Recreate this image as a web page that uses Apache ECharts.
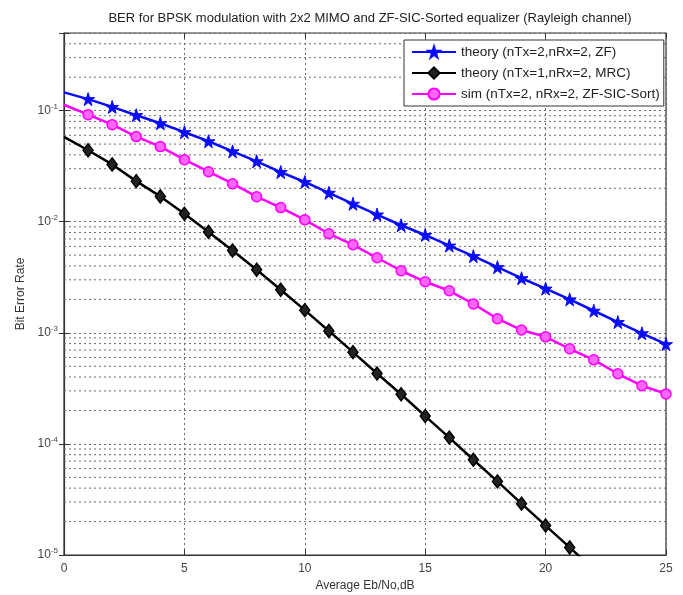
<!DOCTYPE html>
<html>
<head>
<meta charset="utf-8">
<script src="https://cdn.jsdelivr.net/npm/echarts@6/dist/echarts.min.js"></script>
<style>html,body{margin:0;padding:0;background:#fff;}#chart{width:683px;height:595px;}</style>
</head>
<body>
<div id="chart"></div>
<script>
const ebNoDb = [0,1,2,3,4,5,6,7,8,9,10,11,12,13,14,15,16,17,18,19,20,21,22,23,24,25];
const berTheoryZF = [0.146,0.127,0.108,0.091,0.077,0.064,0.053,0.043,0.035,0.028,0.0228,0.0182,0.0145,0.0116,0.0093,0.0076,0.0061,0.0049,0.0039,0.0031,0.0025,0.0020,0.00158,0.00125,0.00099,0.00079];
const berTheoryMRC = [0.058,0.044,0.0328,0.0232,0.0169,0.0118,0.0081,0.0055,0.0037,0.00244,0.0016,0.00104,0.00067,0.00043,0.00028,0.000178,0.000114,0.000072,0.000046,0.000029,0.0000184,0.0000117,0.0000074];
const berSimSort = [0.113,0.092,0.0748,0.0584,0.0475,0.0362,0.0282,0.022,0.0168,0.0134,0.0104,0.0078,0.0062,0.00474,0.00362,0.00288,0.00239,0.00182,0.00134,0.00106,0.00092,0.000718,0.000571,0.000428,0.000334,0.000282];
const seriesNames = ['theory (nTx=2,nRx=2, ZF)','theory (nTx=1,nRx=2, MRC)','sim (nTx=2, nRx=2, ZF-SIC-Sort)'];
const minorMantissas = [2,3,4,5,6,7,8,9];
const decadeExps = [-5,-4,-3,-2,-1];

const yMin = 1e-5, yMax = 0.5, xMin = 0, xMax = 25;
const minorVals = [];
decadeExps.forEach(e => minorMantissas.forEach(m => { const v = m*Math.pow(10,e); if (v < yMax*0.99) minorVals.push([v]); }));

// first point (at x = 0) is drawn without a marker, as in the reference
const pair = (xs, ys) => ys.map((y,i) => (xs[i] === xMin ? {value: [xs[i], y], symbol: 'none'} : [xs[i], y]));
const starPath = 'path://M50,0 L61,35 L98,35 L68,57 L79,91 L50,70 L21,91 L32,57 L2,35 L39,35 Z';
const gridDot = {type:[2,3], color:'#6a6a6a', width:1};
const font = 'Liberation Sans';

const chart = echarts.init(document.getElementById('chart'));
chart.setOption({
  animation: false,
  backgroundColor: '#fff',
  title: {
    text: 'BER for BPSK modulation with 2x2 MIMO and ZF-SIC-Sorted equalizer (Rayleigh channel)',
    left: 365, top: 7, textAlign: 'center',
    textStyle: {fontFamily: font, fontSize: 13, fontWeight: 'normal', color: '#222'}
  },
  legend: {
    data: seriesNames,
    orient: 'vertical',
    left: 404, top: 40,
    width: 262,
    backgroundColor: '#fff',
    borderColor: '#333', borderWidth: 1,
    padding: [5, 4, 5, 7],
    itemGap: 7,
    itemWidth: 44, itemHeight: 14,
    textStyle: {fontFamily: font, fontSize: 13.5, color: '#222'}
  },
  grid: {left: 64, right: 17, top: 33, bottom: 40, outerBoundsMode: 'none', containLabel: false,
         show: true, borderColor: '#333', borderWidth: 1.2, backgroundColor: '#fff'},
  xAxis: [{
    type: 'value', min: xMin, max: xMax, interval: 5,
    name: 'Average Eb/No,dB', nameLocation: 'middle', nameGap: 25,
    nameTextStyle: {fontFamily: font, fontSize: 12, color: '#333'},
    axisLine: {show: true, lineStyle: {color: '#333', width: 1.2}},
    axisTick: {show: true, inside: true, length: 5, lineStyle: {color: '#333'}},
    axisLabel: {fontFamily: font, fontSize: 12, color: '#444', margin: 8},
    splitLine: {show: true, lineStyle: gridDot}
  },{
    type: 'value', min: xMin, max: xMax, interval: 5, position: 'top',
    axisLine: {show: false}, axisLabel: {show: false}, splitLine: {show: false},
    axisTick: {show: true, inside: true, length: 5, lineStyle: {color: '#333'}}
  }],
  yAxis: [{
    type: 'log', logBase: 10, min: yMin, max: yMax,
    name: 'Bit Error Rate', nameLocation: 'middle', nameGap: 37,
    nameTextStyle: {fontFamily: font, fontSize: 12, color: '#333'},
    axisLine: {show: true, lineStyle: {color: '#333', width: 1.2}},
    axisTick: {show: true, inside: true, length: 5, lineStyle: {color: '#333'}},
    splitLine: {show: true, lineStyle: gridDot},
    axisLabel: {
      margin: 6,
      formatter: function (v) {
        const l = Math.log10(v), e = Math.round(l);
        if (Math.abs(l - e) > 0.01) return '';
        return '{b|10}{s|' + e + '}';
      },
      rich: {
        b: {fontFamily: font, fontSize: 12, color: '#444'},
        s: {fontFamily: font, fontSize: 8, color: '#444', padding: [0,0,8,0]}
      }
    }
  },{
    type: 'log', logBase: 10, min: yMin, max: yMax, position: 'right',
    axisLine: {show: false}, axisLabel: {show: false}, splitLine: {show: false},
    axisTick: {show: true, inside: true, length: 5, lineStyle: {color: '#333'}}
  }],
  series: [
    {
      name: 'minor', type: 'custom', silent: true, z: 1,
      data: minorVals,
      renderItem: function (params, api) {
        const v = api.value(0);
        const p1 = api.coord([xMin, v]);
        const p2 = api.coord([xMax, v]);
        return {type: 'line', shape: {x1: p1[0], y1: p1[1], x2: p2[0], y2: p2[1]},
                style: {stroke: gridDot.color, lineWidth: 1, lineDash: gridDot.type}};
      },
      encode: {y: 0}
    },
    {
      name: seriesNames[0], type: 'line', data: pair(ebNoDb, berTheoryZF), z: 3,
      symbol: starPath, symbolSize: 13, showAllSymbol: true,
      lineStyle: {color: '#0a0aff', width: 2.5},
      itemStyle: {color: '#0a0aff', borderColor: '#0a0aff', borderWidth: 1}
    },
    {
      name: seriesNames[1], type: 'line', data: pair(ebNoDb, berTheoryMRC), z: 3,
      symbol: 'diamond', symbolSize: [10, 13], showAllSymbol: true,
      lineStyle: {color: '#000', width: 2.5},
      itemStyle: {color: '#222', borderColor: '#000', borderWidth: 1.5}
    },
    {
      name: seriesNames[2], type: 'line', data: pair(ebNoDb, berSimSort), z: 3,
      symbol: 'circle', symbolSize: 10, showAllSymbol: true,
      lineStyle: {color: '#ff00ff', width: 2.5},
      itemStyle: {color: '#ff66ff', borderColor: '#ff00ff', borderWidth: 1.5}
    }
  ]
});
</script>
</body>
</html>
